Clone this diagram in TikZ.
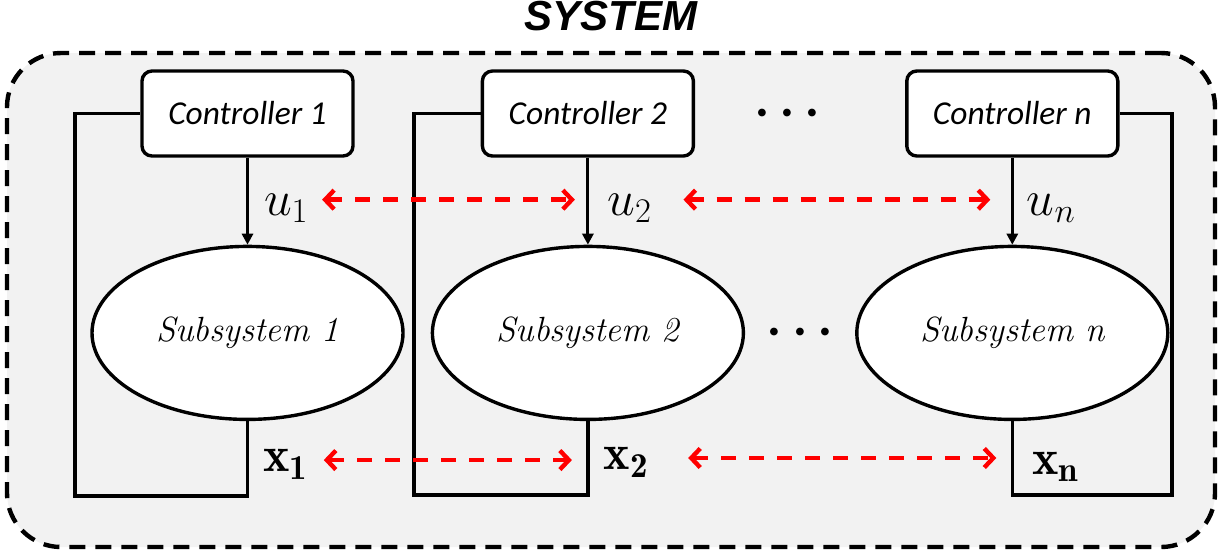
\documentclass[tikz,border=0pt]{standalone}
\usepackage{fontspec}
\usetikzlibrary{arrows.meta,positioning,fit,shapes.geometric,calc}
\newfontfamily\ctrlfont{Carlito}
\newfontfamily\titlefont{Liberation Sans}
\definecolor{sysgray}{HTML}{F2F2F2}
\definecolor{linkred}{HTML}{FF0000}
\tikzset{
  frame/.style={draw,fill=sysgray,rounded corners=27pt,line width=2.2pt,dash pattern=on 8pt off 5pt},
  title/.style={font=\titlefont\bfseries\itshape\fontsize{21}{25}\selectfont,inner sep=0pt,label distance=9.8pt},
  ctrl/.style={draw,rounded corners=5pt,minimum width=105.5pt,minimum height=42.5pt,fill=white,line width=1.7pt,font=\ctrlfont\itshape\fontsize{16.7}{20}\selectfont},
  plant/.style={draw,ellipse,minimum width=155.5pt,minimum height=86.5pt,fill=white,line width=1.7pt,font=\itshape\fontsize{17.5}{20}\selectfont},
  sig/.style={-{Triangle[length=5.5pt,width=5.5pt]},line width=1.5pt},
  fb/.style={line width=1.7pt},
  link/.style={{Straight Barb[length=4.5pt,width=9.5pt]}-{Straight Barb[length=4.5pt,width=9.5pt]},linkred,line width=2.2pt,dash pattern=on 7.5pt off 6.5pt},
  lbl/.style={inner sep=0pt,font=\fontsize{23}{27}\selectfont},
  state/.style={inner sep=0pt,font=\fontsize{25}{29}\selectfont},
  more/.style={font=\fontsize{26}{30}\selectfont\boldmath}
}
\begin{document}
\begin{tikzpicture}
  \useasboundingbox (0,0) rectangle (609.5pt,-277pt);
  \node[frame,fit={(3.5pt,-26.5pt) (607.5pt,-273.5pt)},inner sep=0pt,label={[title]above:SYSTEM}] (sys) {};

  \node[ctrl] (c1) at (123.75pt,-56.75pt) {Controller 1};
  \node[ctrl,right=63pt of c1] (c2) {Controller 2};
  \node[ctrl,right=105pt of c2] (cn) {Controller n};

  \node[plant,below=43.5pt of c1] (s1) {Subsystem 1};
  \node[plant,below=43.5pt of c2] (s2) {Subsystem 2};
  \node[plant,below=43.5pt of cn] (sn) {Subsystem n};

  \node[more] (dc) at ($(c2)!.47!(cn)$) {$\cdots$};
  \node[more] (ds) at ($(s2)!.5!(sn)$) {$\cdots$};

  \coordinate (b1) at (37.5pt,-248pt);
  \coordinate (b2) at (207pt,-247.5pt);
  \coordinate (bn) at (586pt,-247.5pt);

  \draw[sig] (c1) -- node[lbl,right=7.5pt,pos=.58] (u1) {$u_1$} (s1);
  \draw[sig] (c2) -- node[lbl,right=9pt,pos=.58] (u2) {$u_2$} (s2);
  \draw[sig] (cn) -- node[lbl,right=6.5pt,pos=.58] (un) {$u_n$} (sn);

  \draw[fb] (s1.south) |- node[state,right=7pt,pos=.29] (x1) {$\mathbf{x}_{\mathbf{1}}$} (b1) |- (c1.west);
  \draw[fb] (s2.south) |- node[state,right=7pt,pos=.28] (x2) {$\mathbf{x}_{\mathbf{2}}$} (b2) |- (c2.west);
  \draw[fb] (sn.south) |- node[state,right=9pt,pos=.31] (xn) {$\mathbf{x}_{\mathbf{n}}$} (bn) |- (cn.east);

  \draw[link] ($(u1.east)+(6pt,4.25pt)$) -- ($(u1.east -| c2.south)+(-6.5pt,4.25pt)$);
  \draw[link] ($(u2.east)+(15pt,4.25pt)$) -- ($(u2.east -| cn.south)+(-11pt,4.25pt)$);
  \draw[link] ($(x1.east)+(7pt,2.25pt)$) -- ($(x1.east -| s2.south)+(-8pt,2.25pt)$);
  \draw[link] ($(x2.east)+(19pt,2.25pt)$) -- ($(x2.east -| sn.south)+(-8pt,2.25pt)$);
\end{tikzpicture}
\end{document}
